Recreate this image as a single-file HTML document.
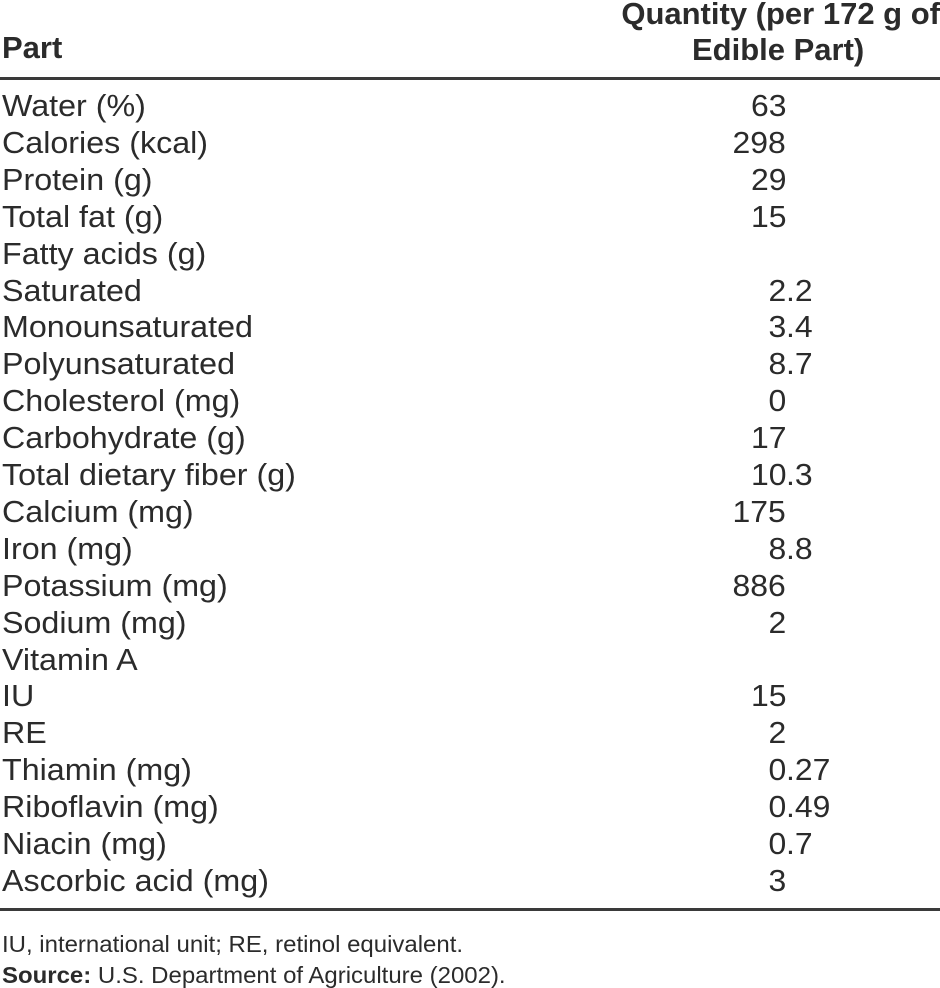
<!DOCTYPE html>
<html><head><meta charset="utf-8"><style>
body{margin:0;width:940px;height:988px;background:#fff;position:relative;font-family:"Liberation Sans",Arial,sans-serif;color:#2b2b2b;overflow:hidden}
.r{position:absolute;left:2px;font-size:31px;line-height:30px;white-space:nowrap;transform:scaleX(1.04);transform-origin:left}
.i{position:absolute;right:154px;font-size:31px;line-height:30px;text-align:right;transform:scaleX(1.03);transform-origin:right}
.f{position:absolute;left:786px;font-size:31px;line-height:30px;transform:scaleX(1.03);transform-origin:left}
.h{position:absolute;font-weight:bold;font-size:31px;line-height:30px;white-space:nowrap}
.line{position:absolute;left:0;width:940px;height:3px;background:#3a3a3a}
.n{position:absolute;left:2px;font-size:23.5px;line-height:24px;white-space:nowrap;transform:scaleX(1.02);transform-origin:left}
</style></head><body>
<div class="h" style="left:2px;top:33px">Part</div>
<div class="h" style="right:0;top:-1px">Quantity (per 172 g of</div>
<div class="h" style="left:692px;top:35px">Edible Part)</div>
<div class="line" style="top:77px"></div>
<div id="rows"></div>
<div class="line" style="top:908px"></div>
<div class="n" style="top:932px">IU, international unit; RE, retinol equivalent.</div>
<div class="n" style="top:963px"><b>Source:</b> U.S. Department of Agriculture (2002).</div>
<script>
var d=[["Water (%)","63"],["Calories (kcal)","298"],["Protein (g)","29"],["Total fat (g)","15"],["Fatty acids (g)",""],["Saturated","2.2"],["Monounsaturated","3.4"],["Polyunsaturated","8.7"],["Cholesterol (mg)","0"],["Carbohydrate (g)","17"],["Total dietary fiber (g)","10.3"],["Calcium (mg)","175"],["Iron (mg)","8.8"],["Potassium (mg)","886"],["Sodium (mg)","2"],["Vitamin A",""],["IU","15"],["RE","2"],["Thiamin (mg)","0.27"],["Riboflavin (mg)","0.49"],["Niacin (mg)","0.7"],["Ascorbic acid (mg)","3"]];
var h="";
for(var k=0;k<d.length;k++){var t=91+k*36.9;
h+='<div class="r" style="top:'+t+'px">'+d[k][0]+'</div>';
var v=d[k][1];if(v){var p=v.split(".");
h+='<div class="i" style="top:'+t+'px">'+p[0]+'</div>';
if(p[1])h+='<div class="f" style="top:'+t+'px">.'+p[1]+'</div>';}}
document.getElementById("rows").innerHTML=h;
</script>
</body></html>
